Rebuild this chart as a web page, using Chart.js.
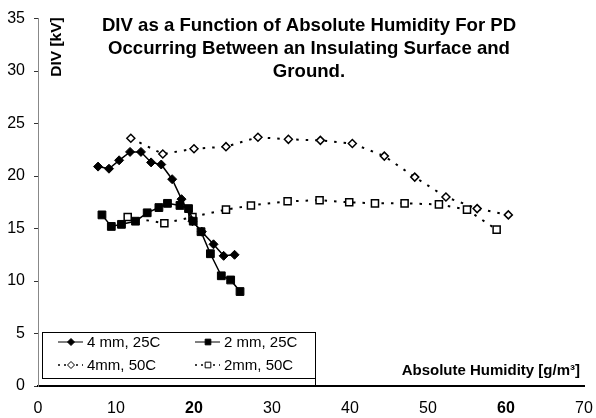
<!DOCTYPE html>
<html>
<head>
<meta charset="utf-8">
<script src="https://cdn.jsdelivr.net/npm/chart.js@4.4.0/dist/chart.umd.min.js"></script>
<style>
  html, body { margin: 0; padding: 0; background: #fff; }
</style>
</head>
<body>
<canvas id="divChart" width="596" height="418"></canvas>
<script>
// Readings (absolute humidity g/m3 -> DIV kV)
const hum4mm25 = [7.7, 9.1, 10.4, 11.8, 13.2, 14.5, 15.8, 17.2, 18.4, 19.8, 21.0, 22.5, 23.8, 25.2];
const div4mm25 = [20.9, 20.7, 21.5, 22.3, 22.3, 21.3, 21.1, 19.7, 17.8, 15.7, 14.7, 13.5, 12.4, 12.5];

const hum2mm25 = [8.2, 9.4, 10.7, 12.5, 14.0, 15.5, 16.6, 18.2, 19.3, 19.9, 20.9, 22.1, 23.5, 24.7, 25.9];
const div2mm25 = [16.3, 15.2, 15.4, 15.7, 16.5, 17.0, 17.4, 17.2, 16.9, 15.7, 14.7, 12.6, 10.5, 10.1, 9.0];

const hum4mm50 = [11.9, 16.0, 20.0, 24.1, 28.2, 32.1, 36.2, 40.3, 44.4, 48.3, 52.3, 56.3, 60.3];
const div4mm50 = [23.6, 22.1, 22.6, 22.8, 23.7, 23.5, 23.4, 23.1, 21.9, 19.9, 18.0, 16.9, 16.3];

const hum2mm50 = [11.5, 16.2, 19.8, 24.1, 27.3, 32.0, 36.1, 39.9, 43.2, 47.0, 51.4, 55.0, 58.8];
const div2mm50 = [16.1, 15.5, 16.1, 16.8, 17.2, 17.6, 17.7, 17.5, 17.4, 17.4, 17.3, 16.8, 14.9];

const seriesNames = ['4 mm, 25C', '2 mm, 25C', '4mm, 50C', '2mm, 50C'];
const xTicks = [0, 10, 20, 30, 40, 50, 60, 70];
const yTicks = [0, 5, 10, 15, 20, 25, 30, 35];
const boldXTicks = [20, 60];

const titleLines = [
  'DIV as a Function of Absolute Humidity For PD',
  'Occurring Between an Insulating Surface and',
  'Ground.'
];
const yTitle = 'DIV [kV]';
const xTitle = 'Absolute Humidity [g/m\u00B3]';

const FONT = '"Liberation Sans", Arial, Helvetica, sans-serif';

function toPoints(xs, ys) {
  return xs.map((x, i) => ({ x: x, y: ys[i] }));
}

const datasets = [
  {
    label: seriesNames[0],
    data: toPoints(hum4mm25, div4mm25),
    borderColor: '#000', backgroundColor: '#000',
    borderWidth: 1.5,
    pointStyle: 'rectRot', pointRadius: 4.5, pointBorderWidth: 1,
    legendRadius: 3.5
  },
  {
    label: seriesNames[1],
    data: toPoints(hum2mm25, div2mm25),
    borderColor: '#000', backgroundColor: '#000',
    borderWidth: 1.5,
    pointStyle: 'rect', pointRadius: 5.5, pointBorderWidth: 1,
    legendRadius: 4
  },
  {
    label: seriesNames[2],
    data: toPoints(hum4mm50, div4mm50),
    borderColor: '#000', backgroundColor: '#fff',
    borderWidth: 2, borderDash: [2.5, 7],
    pointStyle: 'rectRot', pointRadius: 4, pointBorderWidth: 1.5,
    legendRadius: 3.5
  },
  {
    label: seriesNames[3],
    data: toPoints(hum2mm50, div2mm50),
    borderColor: '#000', backgroundColor: '#fff',
    borderWidth: 2, borderDash: [2.5, 7],
    pointStyle: 'rect', pointRadius: 5, pointBorderWidth: 1.5,
    legendRadius: 4
  }
];

// title, axis titles and the boxed legend sit inside the plot, so draw them here
const decorations = {
  id: 'decorations',
  afterDraw(chart) {
    const ctx = chart.ctx;
    const a = chart.chartArea;
    ctx.save();
    ctx.fillStyle = '#000';

    ctx.font = 'bold 18.6px ' + FONT;
    ctx.textAlign = 'center';
    ctx.textBaseline = 'alphabetic';
    titleLines.forEach((t, i) => ctx.fillText(t, 309, 31 + i * 23));

    ctx.save();
    ctx.translate(57, 47);
    ctx.rotate(-Math.PI / 2);
    ctx.font = 'bold 15.5px ' + FONT;
    ctx.textBaseline = 'middle';
    ctx.fillText(yTitle, 0, 0);
    ctx.restore();

    ctx.font = 'bold 15px ' + FONT;
    ctx.textAlign = 'right';
    ctx.fillText(xTitle, a.right - 4, 375);

    // legend box
    const bx = a.left + 4, by = 332, bw = 273, bh = 46;
    ctx.strokeStyle = '#000';
    ctx.lineWidth = 1;
    ctx.strokeRect(bx + 0.5, by + 0.5, bw, bh);
    ctx.beginPath();
    ctx.moveTo(bx + bw + 0.5, by + bh);
    ctx.lineTo(bx + bw + 0.5, a.bottom);
    ctx.stroke();

    ctx.font = '15px ' + FONT;
    ctx.textAlign = 'left';
    ctx.textBaseline = 'middle';
    chart.data.datasets.forEach((ds, i) => {
      const col = i % 2, row = Math.floor(i / 2);
      const x0 = bx + 16 + col * 137;
      const y0 = by + 10 + row * 23;
      ctx.save();
      ctx.strokeStyle = '#000';
      ctx.lineWidth = ds.borderDash ? 1.5 : 1;
      ctx.setLineDash(ds.borderDash ? [2, 4] : []);
      ctx.beginPath();
      ctx.moveTo(x0, y0);
      ctx.lineTo(x0 + 25, y0);
      ctx.stroke();
      ctx.setLineDash([]);
      ctx.fillStyle = ds.backgroundColor;
      ctx.lineWidth = 1;
      Chart.helpers.drawPoint(ctx, {
        pointStyle: ds.pointStyle, radius: ds.legendRadius, borderWidth: 1, rotation: 0
      }, x0 + 13, y0);
      ctx.restore();
      ctx.fillText(ds.label, x0 + 29, y0 + 1);
    });
    ctx.restore();
  }
};

Chart.defaults.color = '#000';
Chart.defaults.font.family = FONT;

new Chart(document.getElementById('divChart').getContext('2d'), {
  type: 'line',
  data: { datasets: datasets },
  options: {
    responsive: false,
    animation: false,
    layout: { padding: { left: 0, right: 12, top: 17, bottom: 0 } },
    plugins: {
      legend: { display: false },
      title: { display: false },
      tooltip: { enabled: false }
    },
    elements: { line: { tension: 0 } },
    scales: {
      x: {
        type: 'linear',
        min: xTicks[0], max: xTicks[xTicks.length - 1],
        afterBuildTicks: (s) => { s.ticks = xTicks.map(v => ({ value: v })); },
        afterFit: (s) => { s.height = 32; },
        ticks: {
          padding: 0,
          font: (c) => ({
            size: 16,
            weight: c.tick && boldXTicks.includes(c.tick.value) ? 'bold' : 'normal'
          })
        },
        // tick marks hidden; tickLength only pushes the labels down
        grid: { display: false, drawTicks: true, tickLength: 13 },
        border: { display: true, color: '#000', width: 2 }
      },
      y: {
        type: 'linear',
        min: yTicks[0], max: yTicks[yTicks.length - 1],
        afterBuildTicks: (s) => { s.ticks = yTicks.map(v => ({ value: v })); },
        afterFit: (s) => { s.width = 38; },
        ticks: { padding: 9, font: { size: 16 } },
        grid: { display: true, drawOnChartArea: false, drawTicks: true, tickLength: 4, color: '#333' },
        border: { display: true, color: '#888', width: 1 }
      }
    }
  },
  plugins: [decorations]
});
</script>
</body>
</html>
